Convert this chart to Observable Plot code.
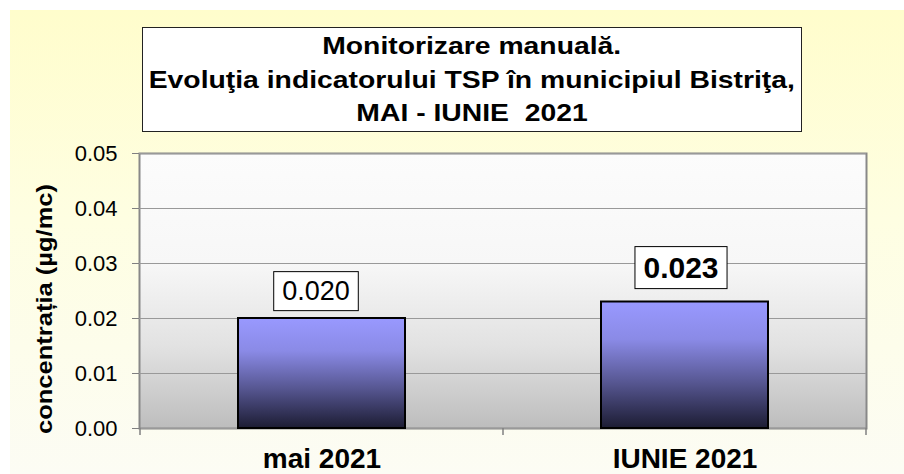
<!DOCTYPE html>
<html><head><meta charset="utf-8">
<script src="https://cdn.jsdelivr.net/npm/d3@7"></script>
<script src="https://cdn.jsdelivr.net/npm/@observablehq/plot@0.6"></script>
<style>
html,body{margin:0;padding:0;background:#fff;}
#wrap{position:relative;width:904px;height:474px;overflow:hidden;font-family:"Liberation Sans",Arial,sans-serif;}
#bg{position:absolute;left:10px;top:10px;right:0;bottom:0;background:linear-gradient(to bottom,#FFFDCC 0%,#FEFEE2 45%,#FCFCF4 100%);}
#chart{position:absolute;left:0;top:0;}
#title{position:absolute;left:142px;top:27px;width:660px;height:105px;box-sizing:border-box;border:1px solid #222;background:#fff;text-align:center;font-weight:bold;font-size:24px;line-height:33.5px;padding-top:1px;color:#000;}
#title span{display:inline-block;transform:scaleX(1.18);transform-origin:center;white-space:pre;}
</style>
</head><body>
<div id="wrap"><div id="bg"></div><div id="chart"></div><div id="title"></div></div>
<script>
const titleLines = ["Monitorizare manuală.", "Evoluţia indicatorului TSP în municipiul Bistriţa,", "MAI - IUNIE  2021"];
const categories = ["mai 2021", "IUNIE 2021"];
const values = [0.020, 0.023];
const valueLabels = ["0.020", "0.023"];
const yTicks = [0, 0.01, 0.02, 0.03, 0.04, 0.05];
const yLabel = "concentrația (µg/mc)";

const data = categories.map((c, i) => ({cat: c, val: values[i], label: valueLabels[i]}));

const titleEl = document.getElementById("title");
titleLines.forEach(t => {
  const d = document.createElement("div");
  const s = document.createElement("span");
  s.textContent = t;
  d.appendChild(s);
  titleEl.appendChild(d);
});

const plot = Plot.plot({
  width: 904, height: 474,
  marginLeft: 139, marginRight: 38, marginTop: 153, marginBottom: 46,
  style: {background: "transparent", fontFamily: "'Liberation Sans', Arial, sans-serif", overflow: "visible", color: "#000"},
  x: {domain: categories, paddingInner: 0.54, paddingOuter: 0.27},
  y: {domain: [0, 0.05]},
  marks: [
    Plot.frame({fill: "url(#plotGrad)", stroke: "#888", strokeWidth: 2}),
    Plot.gridY(yTicks, {stroke: "#999", strokeOpacity: 1, strokeWidth: 1}),
    Plot.axisY(yTicks, {tickFormat: d3.format(".2f"), tickSize: 7, tickPadding: 15, fontSize: 22, stroke: "#808080", fill: "#000", label: null}),
    Plot.axisX({tickSize: 0, tickPadding: 20, fontSize: 28, fontWeight: "bold", fill: "#000", label: null}),
    Plot.barY(data, {x: "cat", y: "val", fill: "url(#barGrad)", stroke: "#000", strokeWidth: 2}),
    Plot.text(data.slice(0, 1), {x: "cat", y: "val", text: "label", fontSize: 27, fontWeight: "normal", dy: -27, dx: -6, fill: "#000", className: "vlabel"}),
    Plot.text(data.slice(1, 2), {x: "cat", y: "val", text: "label", fontSize: 30, fontWeight: "bold", dy: -33.5, dx: -4, fill: "#000", className: "vlabel"}),
    Plot.text([yLabel], {frameAnchor: "left", textAnchor: "middle", text: d => d, rotate: -90, fontSize: 22, fontWeight: "bold", dx: -95, dy: 18, fill: "#000", className: "ylab"})
  ]
});
document.getElementById("chart").appendChild(plot);

const svg = d3.select(plot);
const defs = svg.insert("defs", ":first-child");
const pg = defs.append("linearGradient").attr("id", "plotGrad").attr("x1", 0).attr("y1", 0).attr("x2", 0).attr("y2", 1);
[[0, "#FCFCFC"], [0.4, "#F7F7F7"], [0.7, "#E2E2E2"], [1, "#BDBDBD"]].forEach(([o, c]) => pg.append("stop").attr("offset", o).attr("stop-color", c));
const bg = defs.append("linearGradient").attr("id", "barGrad").attr("x1", 0).attr("y1", 0).attr("x2", 0).attr("y2", 1);
[[0, "#9999FF"], [0.3, "#8A8AE6"], [0.65, "#55558F"], [1, "#1C1C33"]].forEach(([o, c]) => bg.append("stop").attr("offset", o).attr("stop-color", c));

// boxes behind value labels
svg.selectAll("g.vlabel text").each(function() {
  const b = this.getBBox();
  const r = document.createElementNS("http://www.w3.org/2000/svg", "rect");
  const px = 8.5, py = 4.5;
  r.setAttribute("x", b.x - px); r.setAttribute("y", b.y - py);
  r.setAttribute("width", b.width + 2 * px); r.setAttribute("height", b.height + 2 * py);
  r.setAttribute("fill", "#fff"); r.setAttribute("stroke", "#000"); r.setAttribute("stroke-width", 1);
  const t = this.getAttribute("transform"); if (t) r.setAttribute("transform", t);
  this.parentNode.insertBefore(r, this);
});

// stretch y label
svg.selectAll("g.ylab text").attr("textLength", 250).attr("lengthAdjust", "spacingAndGlyphs");

// category boundary ticks on the x axis
const sx = plot.scale("x");
const xs = categories.map(c => sx.apply(c) + sx.bandwidth / 2);
const bounds = [xs[0] - sx.step / 2, ...xs.map(x => x + sx.step / 2)];
const y0 = plot.scale("y").apply(0);
const tg = svg.append("g").attr("stroke", "#808080").attr("stroke-width", 1.5);
bounds.forEach(x => tg.append("line").attr("x1", x).attr("x2", x).attr("y1", y0).attr("y2", y0 + 7));
</script>
</body></html>
